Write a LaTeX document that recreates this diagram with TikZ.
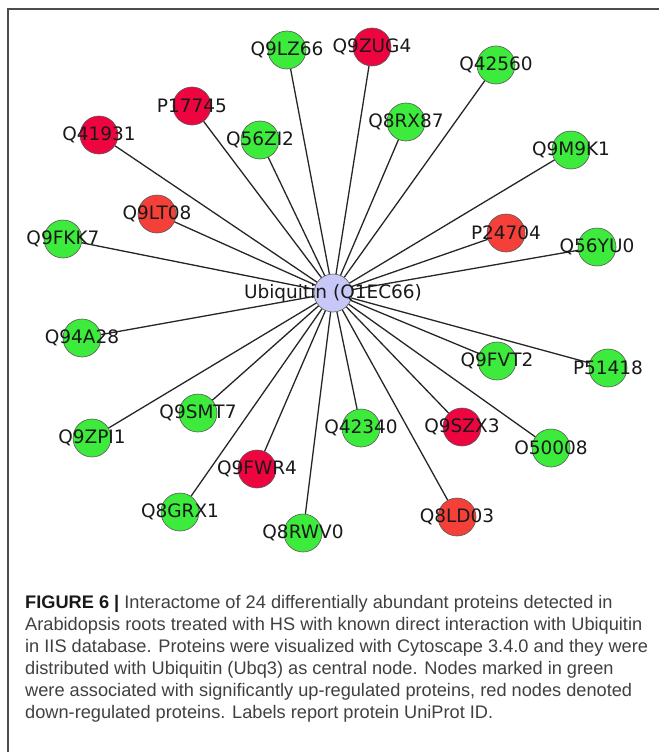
\documentclass[tikz,border=0pt]{standalone}
\usepackage{fontspec}
\setmainfont{Liberation Sans}
\newfontfamily\idfont{DejaVu Sans}
\usepackage{tikz}

\definecolor{upgreen}{HTML}{3CEB3C}
\definecolor{downred}{HTML}{EE0540}
\definecolor{downorange}{HTML}{F5403A}
\definecolor{hubblue}{HTML}{C8C8F8}

% name/x/y/fill of the interactors
\newcommand\interactors{Q9LZ66/287/50/upgreen, Q9ZUG4/372/47/downred, Q42560/496/65/upgreen,
  P17745/192/106/downred, Q41931/99/135/downred, Q56ZI2/260/140/upgreen,
  Q8RX87/406/122/upgreen, Q9M9K1/571/150/upgreen, Q9LT08/157/214/downorange,
  Q9FKK7/63/239/upgreen, P24704/506/233/downorange, Q56YU0/597/247/upgreen,
  Q94A28/82/338/upgreen, Q9FVT2/497/361/upgreen, P51418/608/368/upgreen,
  Q9SMT7/198/413/upgreen, Q9ZPI1/92/438/upgreen, Q42340/361/428/upgreen,
  Q9SZX3/462/427/downred, O50008/551/448/upgreen, Q9FWR4/257/469/downred,
  Q8GRX1/180/512/upgreen, Q8RWV0/303/533/upgreen, Q8LD03/457/517/downorange}

\begin{document}
\begin{tikzpicture}[x=1pt,y=-1pt,
    prot/.style={circle,draw=black!65,line width=0.6pt,minimum size=38pt,inner sep=0pt},
    link/.style={line width=1.3pt,black!85},
    idlabel/.style={font=\idfont\fontsize{18.5}{20}\selectfont,text=black!90}]
    \useasboundingbox (0,0) rectangle (659,752);
    \draw[line width=1.5pt,black!70] (8,752) -- (8,9) -- (659,9);

    \node[prot,fill=hubblue] (ub) at (333,293) {};
    \foreach \n/\px/\py/\c in \interactors
        \node[prot,fill=\c] (\n) at (\px,\py) {};
    \foreach \n/\px/\py/\c in \interactors
        \draw[link] (ub) -- (\n);
    \foreach \n/\px/\py/\c in \interactors
        \node[idlabel] at (\n.center) {\n};
    \node[idlabel] at (ub.center) {Ubiquitin (Q1EC66)};

    \node[anchor=north west,align=left,inner sep=0pt,text=black!75,
        font=\fontsize{18.2}{22}\selectfont] (caption) at (25,595)
        {\textbf{\color{black!90}FIGURE 6 |} Interactome of 24 differentially abundant proteins detected in\\
        Arabidopsis roots treated with HS with known direct interaction with Ubiquitin\\
        in IIS database. Proteins were visualized with Cytoscape 3.4.0 and they were\\
        distributed with Ubiquitin (Ubq3) as central node. Nodes marked in green\\
        were associated with significantly up-regulated proteins, red nodes denoted\\
        down-regulated proteins. Labels report protein UniProt ID.};
\end{tikzpicture}
\end{document}
